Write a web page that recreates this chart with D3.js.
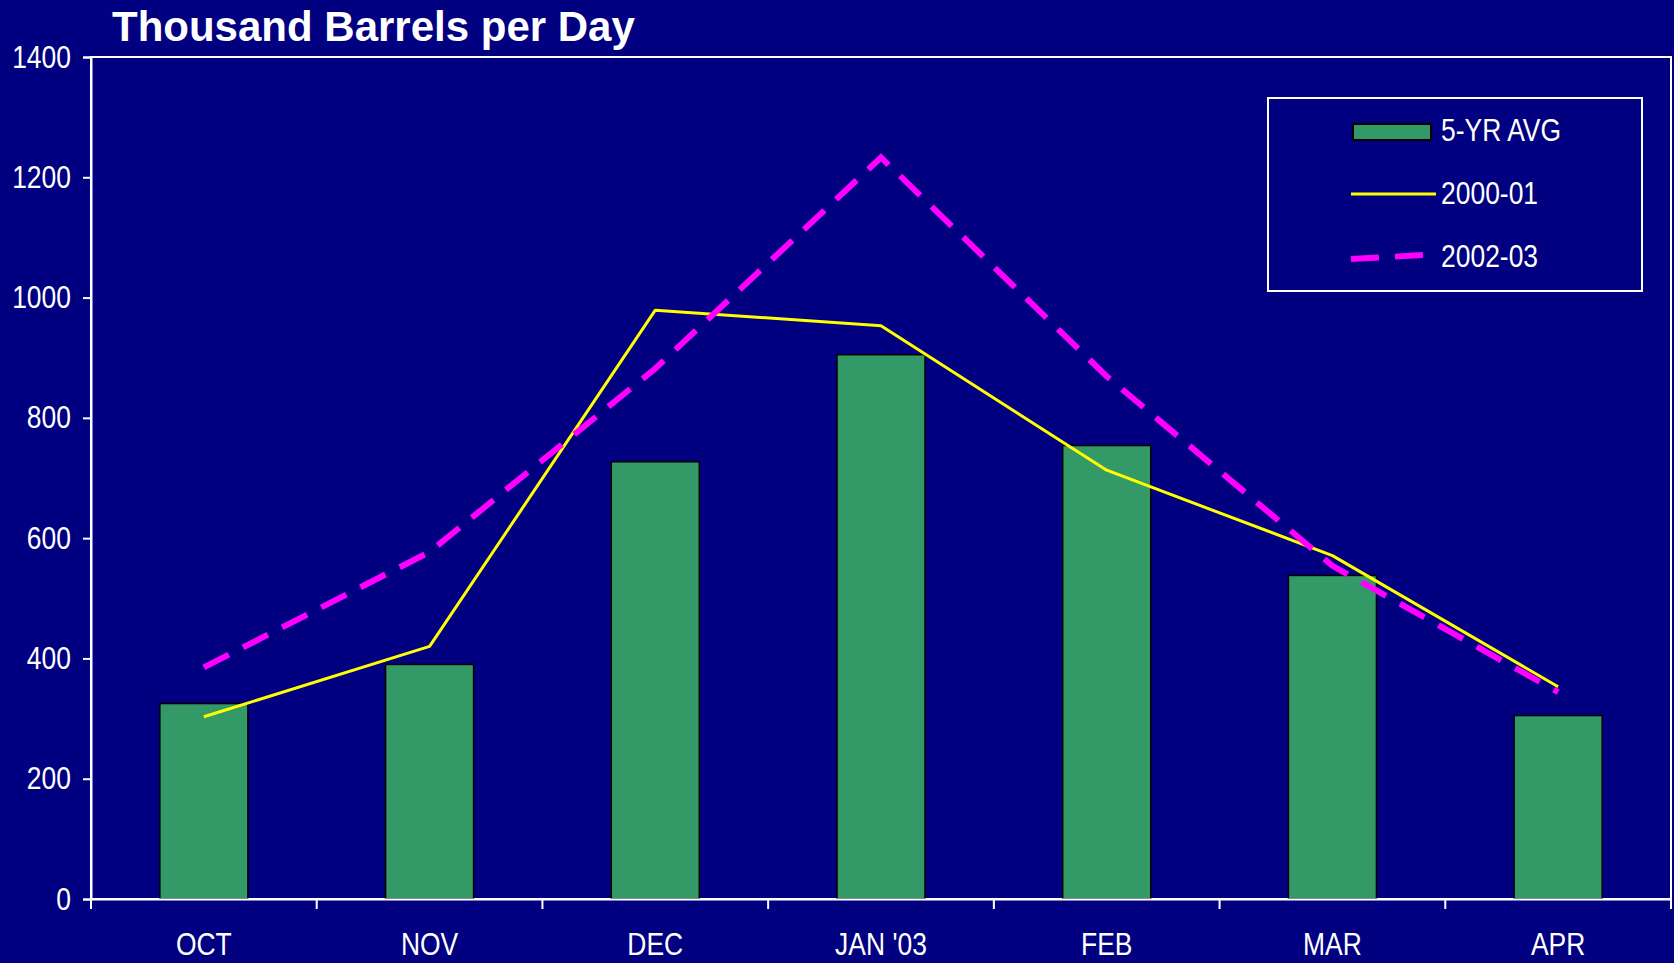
<!DOCTYPE html>
<html>
<head>
<meta charset="utf-8">
<script src="https://cdn.jsdelivr.net/npm/d3@7"></script>
<style>
  html, body { margin: 0; padding: 0; background: #000080; }
  svg text { fill: #fff; }
  .tick text, .lab { font-family: "Liberation Sans", Arial, sans-serif; }
</style>
</head>
<body>
<div id="chart"></div>
<script>
const months = ["OCT", "NOV", "DEC", "JAN '03", "FEB", "MAR", "APR"];
const avg5yr = [325, 390, 727, 905, 754, 538, 305];
const y2000 = [303, 420, 979, 953, 713, 571, 353];
const y2002 = [385, 577, 882, 1233, 869, 554, 344];
const yTicks = [0, 200, 400, 600, 800, 1000, 1200, 1400];

const width = 1674, height = 963;
const m = { left: 91, right: 3, top: 57, bottom: 64 };
const narrow = 0.84; // squeeze labels to look like a condensed face
const labelSize = "31.5px";

const svg = d3.select("#chart")
  .append("svg")
  .attr("width", width)
  .attr("height", height);

svg.append("rect")
  .attr("width", width)
  .attr("height", height)
  .attr("fill", "#000080");

const xscale = d3.scaleBand()
  .domain(months)
  .range([m.left, width - m.right])
  .padding(0);

const yscale = d3.scaleLinear()
  .domain([0, 1400])
  .range([height - m.bottom, m.top]);

const cx = (d) => xscale(d) + xscale.bandwidth() / 2;
const barW = xscale.bandwidth() * 0.39;

// plot border
svg.append("rect")
  .attr("x", m.left)
  .attr("y", m.top)
  .attr("width", width - m.right - m.left)
  .attr("height", height - m.bottom - m.top)
  .attr("fill", "none")
  .attr("stroke", "#fff")
  .attr("stroke-width", 2);

// bars
svg.append("g")
  .selectAll("rect")
  .data(avg5yr)
  .join("rect")
  .attr("x", (d, i) => cx(months[i]) - barW / 2)
  .attr("y", (d) => yscale(d))
  .attr("width", barW)
  .attr("height", (d) => yscale(0) - yscale(d))
  .attr("fill", "#339966")
  .attr("stroke", "#000")
  .attr("stroke-width", 1.5);

const line = d3.line()
  .x((d, i) => cx(months[i]))
  .y((d) => yscale(d));

svg.append("path")
  .attr("d", line(y2000))
  .attr("fill", "none")
  .attr("stroke", "#ffff00")
  .attr("stroke-width", 3)
  .attr("stroke-linejoin", "round");

svg.append("path")
  .attr("d", line(y2002))
  .attr("fill", "none")
  .attr("stroke", "#ff00ff")
  .attr("stroke-width", 6)
  .attr("stroke-dasharray", "28,16");

// axes
const yAxis = d3.axisLeft(yscale)
  .tickValues(yTicks)
  .tickSize(8)
  .tickPadding(11)
  .tickFormat((d) => d);

const gy = svg.append("g")
  .attr("transform", `translate(${m.left},0)`)
  .call(yAxis);

const xAxis = d3.axisBottom(xscale)
  .tickSize(0)
  .tickPadding(34);

const gx = svg.append("g")
  .attr("transform", `translate(0,${height - m.bottom})`)
  .call(xAxis);

[gx, gy].forEach((g) => {
  g.select(".domain").attr("stroke", "#fff").attr("stroke-width", 2);
  g.selectAll(".tick line").attr("stroke", "#fff").attr("stroke-width", 2);
  g.selectAll(".tick text").attr("fill", "#fff").style("font-size", labelSize);
});
gx.selectAll(".tick text").attr("transform", `scale(${narrow},1)`);
gy.selectAll(".tick text")
  .attr("x", -20 / narrow)
  .attr("transform", `scale(${narrow},1)`);

// x boundary ticks between months
svg.append("g")
  .selectAll("line")
  .data(months.concat([null]))
  .join("line")
  .attr("x1", (d, i) => m.left + i * xscale.bandwidth())
  .attr("x2", (d, i) => m.left + i * xscale.bandwidth())
  .attr("y1", height - m.bottom)
  .attr("y2", height - m.bottom + 10)
  .attr("stroke", "#fff")
  .attr("stroke-width", 2);

// title
svg.append("text")
  .attr("x", 112)
  .attr("y", 41)
  .style("font-family", "'Liberation Sans', Arial, sans-serif")
  .style("font-weight", "bold")
  .style("font-size", "42px")
  .text("Thousand Barrels per Day");

// legend
const lg = svg.append("g").attr("transform", "translate(1268,98)");
lg.append("rect")
  .attr("width", 374)
  .attr("height", 193)
  .attr("fill", "none")
  .attr("stroke", "#fff")
  .attr("stroke-width", 2);

lg.append("rect")
  .attr("x", 85).attr("y", 26)
  .attr("width", 78).attr("height", 16)
  .attr("fill", "#339966")
  .attr("stroke", "#000")
  .attr("stroke-width", 2);

lg.append("line")
  .attr("x1", 83).attr("x2", 168)
  .attr("y1", 96).attr("y2", 96)
  .attr("stroke", "#ffff00")
  .attr("stroke-width", 3);

lg.append("path")
  .attr("d", "M83,161L157,157")
  .attr("stroke", "#ff00ff")
  .attr("stroke-width", 6)
  .attr("stroke-dasharray", "28,16");

const legendNames = ["5-YR AVG", "2000-01", "2002-03"];
lg.selectAll("text.lab")
  .data(legendNames)
  .join("text")
  .attr("class", "lab")
  .attr("transform", (d, i) => `translate(173,${32 + i * 63}) scale(${narrow},1)`)
  .attr("dy", "0.35em")
  .style("font-size", labelSize)
  .text((d) => d);
</script>
</body>
</html>
